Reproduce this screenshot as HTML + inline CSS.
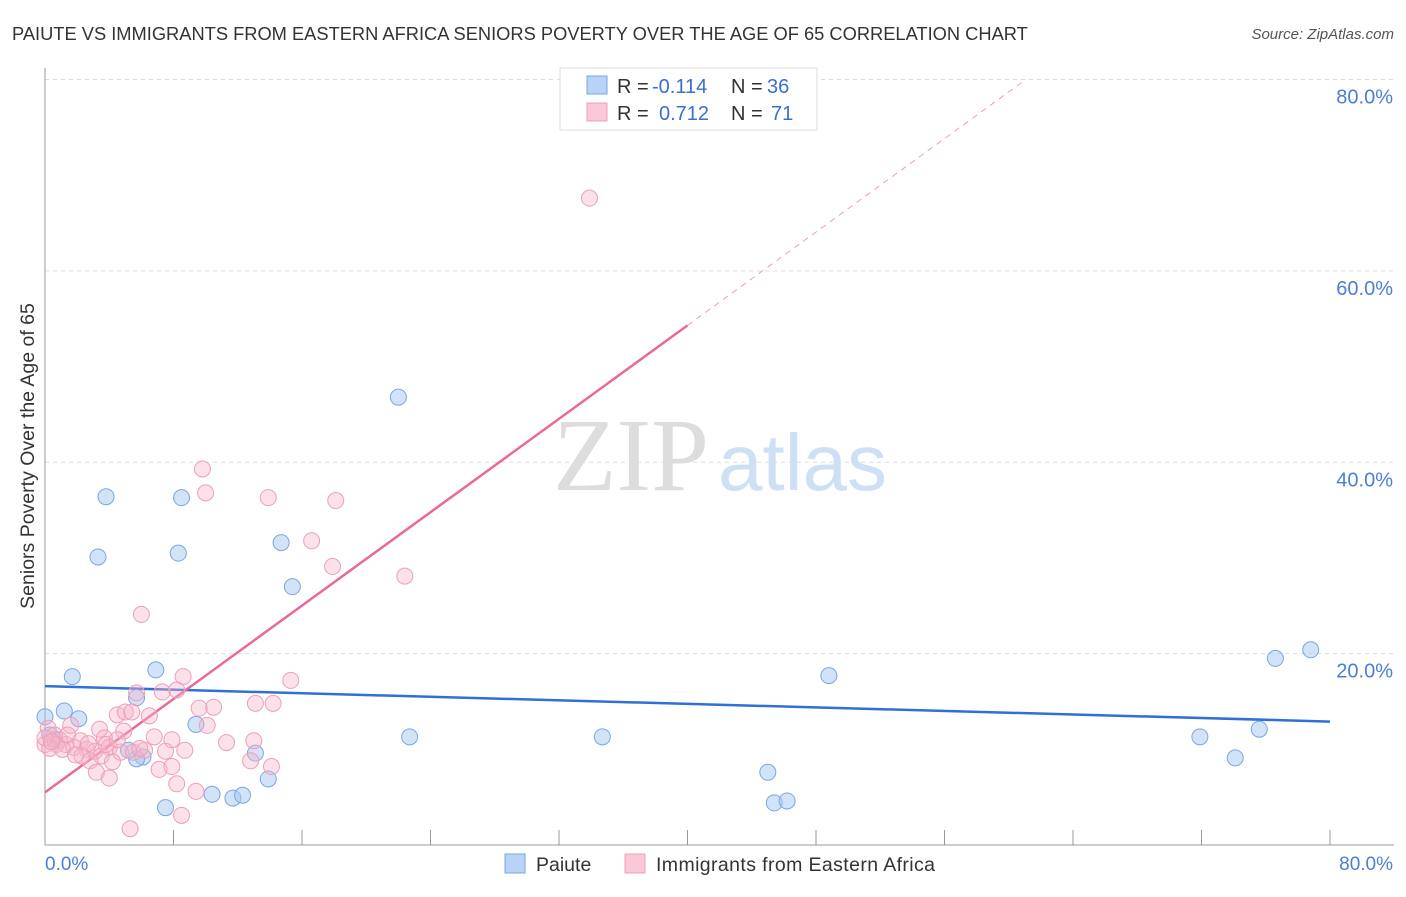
<!DOCTYPE html>
<html><head><meta charset="utf-8"><style>
body{margin:0;background:#fff;font-family:"Liberation Sans",sans-serif;}
</style></head><body>
<svg width="1406" height="892" xmlns="http://www.w3.org/2000/svg" style="font-family:'Liberation Sans',sans-serif">
<text x="12" y="40" font-size="18.3" fill="#333">PAIUTE VS IMMIGRANTS FROM EASTERN AFRICA SENIORS POVERTY OVER THE AGE OF 65 CORRELATION CHART</text>
<text x="1394" y="39" font-size="15" fill="#555" text-anchor="end" font-style="italic">Source: ZipAtlas.com</text>
<g id="grid"></g>
<text x="553" y="490" font-size="104" fill="#ddd" font-family="Liberation Serif">ZIP</text>
<text x="718" y="490" font-size="80" fill="#cfe0f5">atlas</text>
<g id="lines"></g>
<g id="points"></g>
<text transform="translate(34,456) rotate(-90)" font-size="19.5" fill="#333" text-anchor="middle">Seniors Poverty Over the Age of 65</text>
<text x="45" y="870" font-size="19" fill="#4a7fd4">0.0%</text>
<text x="1393" y="870" font-size="19" fill="#4a7fd4" text-anchor="end">80.0%</text>
<g>
<rect x="560" y="68" width="257" height="62" fill="#fff" stroke="#ddd"/>
<rect x="587" y="76" width="20" height="18" fill="#b8d3f5" stroke="#7aa7e0"/>
<rect x="587" y="103" width="20" height="18" fill="#fbc8d8" stroke="#eca0b8"/>
<text x="617" y="93" font-size="20" fill="#333">R =</text>
<text x="652" y="93" font-size="20" fill="#3a6fd0">-0.114</text>
<text x="731" y="93" font-size="20" fill="#333">N =</text>
<text x="767" y="93" font-size="20" fill="#3a6fd0">36</text>
<text x="617" y="120" font-size="20" fill="#333">R =</text>
<text x="659" y="120" font-size="20" fill="#3a6fd0">0.712</text>
<text x="731" y="120" font-size="20" fill="#333">N =</text>
<text x="771" y="120" font-size="20" fill="#3a6fd0">71</text>
</g>
<g>
<rect x="505" y="854" width="20" height="19" fill="#b8d3f5" stroke="#7aa7e0"/>
<text x="536" y="871" font-size="19.5" fill="#333">Paiute</text>
<rect x="625" y="854" width="20" height="19" fill="#fbc8d8" stroke="#eca0b8"/>
<text x="656" y="871" font-size="19.5" fill="#333" textLength="279">Immigrants from Eastern Africa</text>
</g>
</svg>
<script>
const yTicks=[20,40,60,80];
const yTickLabels=["20.0%","40.0%","60.0%","80.0%"];
const xTicks=[0,8,16,24,32,40,48,56,64,72,80];
const paiuteX=[0,1.2,1.7,2.1,3.3,3.8,5.7,6.1,5.7,6.9,7.5,8.3,8.5,9.4,10.4,11.7,12.3,13.1,13.9,14.7,15.4,22.0,22.7,34.7,45.0,45.4,46.2,48.8,71.9,74.1,75.6,76.6,78.8,0.3,0.6,5.2];
const paiuteY=[13.4,14.0,17.6,13.2,30.1,36.4,15.4,9.2,9.0,18.3,3.9,30.5,36.3,12.6,5.3,4.9,5.2,9.6,6.9,31.6,27.0,46.8,11.3,11.3,7.6,4.4,4.6,17.7,11.3,9.1,12.1,19.5,20.4,11.5,11.0,9.9];
const eafX=[33.9,9.8,10.0,13.9,18.1,16.6,17.9,22.4,6.0,8.6,15.3,5.7,7.3,8.2,13.1,14.2,10.5,9.6,4.5,5.0,6.5,5.4,10.1,1.6,3.4,4.9,2.2,3.7,6.8,7.9,11.3,13.0,0.2,0.6,0.9,1.3,1.8,2.6,3.1,0.7,0,0.3,2.7,4.0,4.7,5.5,6.2,7.5,8.7,3.5,4.2,2.8,2.3,12.8,14.1,7.1,7.9,3.2,4.0,9.4,8.2,8.5,5.3,0,1.1,1.9,3.8,4.5,5.9,0.4,1.4];
const eafY=[67.6,39.3,36.8,36.3,36.0,31.8,29.1,28.1,24.1,17.6,17.2,15.9,16.0,16.2,14.8,14.8,14.4,14.3,13.6,13.9,13.5,13.9,12.5,12.5,12.1,11.9,10.9,11.2,11.3,11.0,10.7,10.9,12.2,11.5,11.0,10.5,10.2,10.0,9.8,10.5,10.5,10.1,10.6,10.2,9.7,9.7,9.9,9.8,9.9,9.3,8.7,8.8,9.3,8.8,8.2,7.9,8.2,7.6,7.0,5.6,6.4,3.1,1.7,11.2,10.0,9.4,10.5,11.0,10.1,10.8,11.5];
const blueFit=[16.6,12.9];
const pinkFit=[5.5,1.22];
const NS="http://www.w3.org/2000/svg";
const X=v=>45+v/80*1285, Y=v=>845-v/80*765.5;
function mk(t,a,p){const e=document.createElementNS(NS,t);for(const k in a)e.setAttribute(k,a[k]);p.appendChild(e);return e;}
const g=document.getElementById('grid');
yTicks.forEach((t,i)=>{
 const l=mk('line',{x1:45,x2:1394,y1:Y(t),y2:Y(t),stroke:'#ddd','stroke-dasharray':'4,4'},g);
 
 
 const tx=mk('text',{x:1393,y:Y(t)+24,'font-size':20,fill:'#4a7fd4','text-anchor':'end'},g);
 tx.textContent=yTickLabels[i];
 
 
});
const ax=mk('line',{x1:45,x2:1394,y1:845,y2:845,stroke:'#999'},g);


const ay=mk('line',{x1:45,x2:45,y1:68,y2:845,stroke:'#999'},g);


xTicks.forEach(t=>{const l=mk('line',{x1:X(t),x2:X(t),y1:830,y2:845,stroke:'#999'},g);
 
 });
const pts=document.getElementById('points');
paiuteX.forEach((x,i)=>{const c=mk('circle',{cx:X(x),cy:Y(paiuteY[i]),r:8,fill:'rgba(165,198,240,0.5)',stroke:'#7aa7e0','stroke-width':1},pts);
 
 });
eafX.forEach((x,i)=>{const c=mk('circle',{cx:X(x),cy:Y(eafY[i]),r:8,fill:'rgba(248,180,202,0.4)',stroke:'#eca0b8','stroke-width':1},pts);
 
 });
const ln=document.getElementById('lines');
const b=mk('line',{x1:X(0),y1:Y(blueFit[0]),x2:X(80),y2:Y(blueFit[1]),stroke:'#2f6fd6','stroke-width':2.5},ln);


const xs=40, xe=(80-pinkFit[0])/pinkFit[1];
const p=mk('line',{x1:X(0),y1:Y(pinkFit[0]),x2:X(xs),y2:Y(pinkFit[0]+pinkFit[1]*xs),stroke:'#e8699a','stroke-width':2.5},ln);


const pd=mk('line',{x1:X(xs),y1:Y(pinkFit[0]+pinkFit[1]*xs),x2:X(xe),y2:Y(80),stroke:'#eca0b8','stroke-width':1,'stroke-dasharray':'6,5'},ln);


</script>
</body></html>
